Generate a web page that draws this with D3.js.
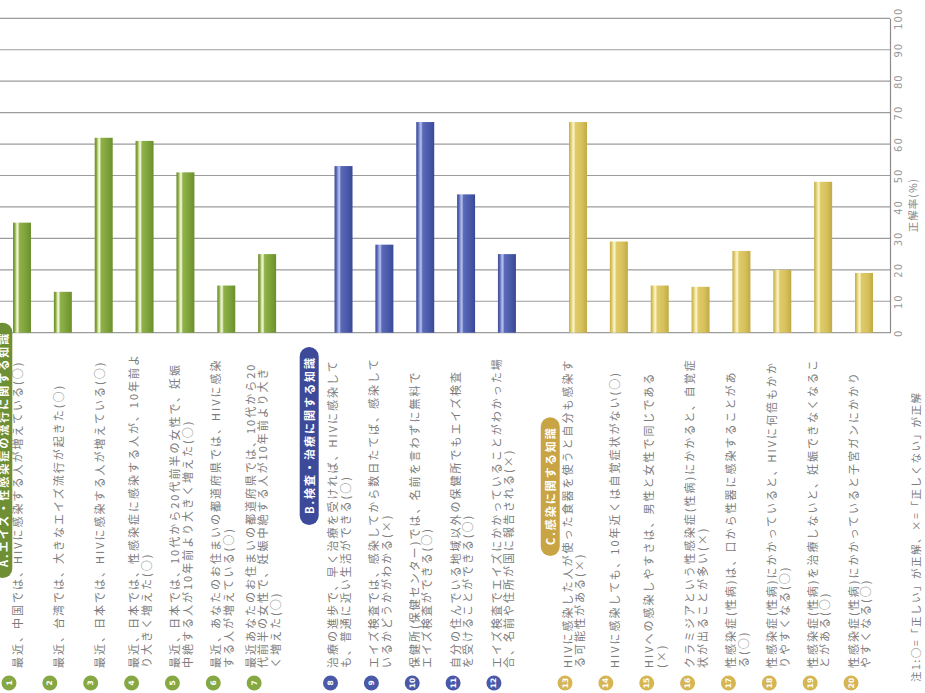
<!DOCTYPE html>
<html>
<head>
<meta charset="utf-8">
<script src="https://cdn.jsdelivr.net/npm/d3@7"></script>
<style>
  body { margin: 0; background: #fff; }
  svg { display: block; }
  text { font-family: "Noto Sans CJK JP", "Noto Sans", sans-serif; }
</style>
</head>
<body>
<svg id="chart" width="925" height="693"></svg>
<script>
// ---- data ----
const questionNumbers = d3.range(1, 21);
const questionGroups = ["A","A","A","A","A","A","A","B","B","B","B","B","C","C","C","C","C","C","C","C"];
const correctRates = [35, 13, 62, 61, 51, 15, 25, 53, 28, 67, 44, 25, 67, 29, 15, 14.6, 26, 20, 48, 19];
const questionLines = [
  ["最近、中国では、HIVに感染する人が増えている(○)"],
  ["最近、台湾では、大きなエイズ流行が起きた(○)"],
  ["最近、日本では、HIVに感染する人が増えている(○)"],
  ["最近、日本では、性感染症に感染する人が、10年前よ", "り大きく増えた(○)"],
  ["最近、日本では、10代から20代前半の女性で、妊娠", "中絶する人が10年前より大きく増えた(○)"],
  ["最近、あなたのお住まいの都道府県では、HIVに感染", "する人が増えている(○)"],
  ["最近あなたのお住まいの都道府県では、10代から20", "代前半の女性で、妊娠中絶する人が10年前より大き", "く増えた(○)"],
  ["治療の進歩で、早く治療を受ければ、HIVに感染して", "も、普通に近い生活ができる(○)"],
  ["エイズ検査では、感染してから数日たてば、感染して", "いるかどうかがわかる(×)"],
  ["保健所(保健センター)では、名前を言わずに無料で", "エイズ検査ができる(○)"],
  ["自分の住んでいる地域以外の保健所でもエイズ検査", "を受けることができる(○)"],
  ["エイズ検査でエイズにかかっていることがわかった場", "合、名前や住所が国に報告される(×)"],
  ["HIVに感染した人が使った食器を使うと自分も感染す", "る可能性がある(×)"],
  ["HIVに感染しても、10年近くは自覚症状がない(○)"],
  ["HIVへの感染しやすさは、男性と女性で同じである", "(×)"],
  ["クラミジアという性感染症(性病)にかかると、自覚症", "状が出ることが多い(×)"],
  ["性感染症(性病)は、口から性器に感染することがあ", "る(○)"],
  ["性感染症(性病)にかかっていると、HIVに何倍もかか", "りやすくなる(○)"],
  ["性感染症(性病)を治療しないと、妊娠できなくなるこ", "とがある(○)"],
  ["性感染症(性病)にかかっていると子宮ガンにかかり", "やすくなる(○)"]
];
const groupKeys = ["A", "B", "C"];
const groupTitles = ["A.エイズ・性感染症の流行に関する知識", "B.検査・治療に関する知識", "C.感染に関する知識"];
const rateTicks = [0, 10, 20, 30, 40, 50, 60, 70, 80, 90, 100];
const axisTitle = "正解率(%)";
const footnote = "注1:○=「正しい」が正解、×=「正しくない」が正解";

// ---- layout & style ----
const groupStyle = {
  A: { bar: ["#6c8f2c", "#86aa42", "#dfe9b0", "#f3f6dc", "#8fb24a", "#7ea23a", "#6b8f2d"], badge: "#86a843", pill: "#6f8f35" },
  B: { bar: ["#3d4c9c", "#5666b4", "#9aa6e0", "#b9c1ef", "#5a6ab8", "#4a5aaa", "#3a4896"], badge: "#4a58a8", pill: "#3d4a9a" },
  C: { bar: ["#c4ac46", "#dcc766", "#f3e9a8", "#fbf4c8", "#dfcb6a", "#d6c15c", "#c2aa44"], badge: "#d6b553", pill: "#c8a444" }
};
const gradStops = [0, 0.1, 0.2, 0.27, 0.36, 0.7, 1];
const gapAfterGroup = { A: 0.87, B: 0.74, C: 0 };
const headerLead = { A: 0.47, B: 0.84, C: 0.68 };
const headerBottom = { A: 578, B: 525, C: 556 };
const barWidth = 18;
const labelStartY = 668;
const lineStep = 12.5;
const badgeY = 683;

// slot position of each question, with extra space between groups
const slots = [];
let offset = 0;
questionGroups.forEach((g, i) => {
  if (i > 0 && questionGroups[i - 1] !== g) offset += gapAfterGroup[questionGroups[i - 1]];
  slots.push(i + offset);
});

const svg = d3.select("#chart");
const x = d3.scaleLinear().domain([0, d3.max(slots)]).range([22, 864]);
const y = d3.scaleLinear().domain([0, 100]).range([332.7, 18.3]);
const axisX = 890;

// gradients for the cylinder-like bars
const defs = svg.append("defs");
groupKeys.forEach(k => {
  const lg = defs.append("linearGradient").attr("id", "bar-" + k)
    .attr("x1", "0%").attr("x2", "100%").attr("y1", "0%").attr("y2", "0%");
  groupStyle[k].bar.forEach((c, i) => lg.append("stop").attr("offset", gradStops[i]).attr("stop-color", c));
});

// horizontal gridlines
svg.append("g").selectAll("line").data(rateTicks).join("line")
  .attr("x1", 0).attr("x2", axisX)
  .attr("y1", d => y(d)).attr("y2", d => y(d))
  .attr("stroke", "#9c9c9c").attr("stroke-width", 1.2);

// value axis on the right
const axis = svg.append("g").attr("transform", `translate(${axisX},0)`)
  .call(d3.axisRight(y).tickValues(rateTicks).tickSize(0).tickPadding(0));
axis.select(".domain").attr("stroke", "#8c8c8c").attr("stroke-width", 1.2);
axis.selectAll(".tick text")
  .attr("x", null).attr("dy", null)
  .attr("transform", "translate(8,0) rotate(-90)")
  .attr("text-anchor", "middle")
  .attr("dominant-baseline", "central")
  .attr("fill", "#9a9a9a")
  .style("font-size", "10px")
  .style("letter-spacing", "1px")
  .style("font-family", "\"DejaVu Sans\", sans-serif");

svg.append("text")
  .attr("transform", `translate(912,205) rotate(-90)`)
  .attr("text-anchor", "middle").attr("dominant-baseline", "central")
  .attr("fill", "#8a8a8a").style("font-size", "10.5px").style("letter-spacing", "1px")
  .text(axisTitle);

// bars
svg.append("g").selectAll("rect").data(correctRates).join("rect")
  .attr("x", (d, i) => x(slots[i]) - barWidth / 2)
  .attr("width", barWidth)
  .attr("y", d => y(d))
  .attr("height", d => y(0) - y(d))
  .attr("fill", (d, i) => `url(#bar-${questionGroups[i]})`);

// question labels (rotated, reading upward)
const labels = svg.append("g");
questionLines.forEach((lines, i) => {
  const cx = x(slots[i]) - 5;
  lines.forEach((ln, j) => {
    const lx = cx + (j - (lines.length - 1) / 2) * lineStep;
    labels.append("text")
      .attr("transform", `translate(${lx},${labelStartY}) rotate(-90)`)
      .attr("dominant-baseline", "central")
      .attr("fill", "#7c7c7c")
      .style("font-size", "11px")
      .style("letter-spacing", "2px")
      .text(ln);
  });
});

// numbered badges
const badges = svg.append("g").selectAll("g").data(questionNumbers).join("g")
  .attr("transform", (d, i) => `translate(${x(slots[i]) - 13},${badgeY})`);
badges.append("circle").attr("r", 7.5).attr("fill", (d, i) => groupStyle[questionGroups[i]].badge);
badges.append("text")
  .attr("transform", "rotate(-90)")
  .attr("text-anchor", "middle").attr("dominant-baseline", "central")
  .attr("fill", "#fff").style("font-size", "7.5px").style("font-weight", "bold")
  .style("font-family", "\"DejaVu Sans\", sans-serif")
  .text(d => d);

// group heading pills
groupKeys.forEach((k, gi) => {
  const first = questionGroups.indexOf(k);
  const hx = x(slots[first] - headerLead[k]);
  const g = svg.append("g").attr("transform", `translate(${hx},${headerBottom[k]}) rotate(-90)`);
  const rect = g.append("rect");
  const t = g.append("text")
    .attr("x", 11).attr("dominant-baseline", "central")
    .attr("fill", "#fff").style("font-size", "11px").style("letter-spacing", "2px")
    .style("font-weight", "bold")
    .text(groupTitles[gi]);
  const len = t.node().getComputedTextLength() + 20;
  rect.attr("x", 0).attr("y", -9.5).attr("width", len).attr("height", 19)
    .attr("rx", 9.5).attr("fill", groupStyle[k].pill);
});

// footnote
svg.append("text")
  .attr("transform", "translate(915,682) rotate(-90)")
  .attr("dominant-baseline", "central")
  .attr("fill", "#7c7c7c").style("font-size", "10.5px").style("letter-spacing", "1.5px")
  .text(footnote);
</script>
</body>
</html>
